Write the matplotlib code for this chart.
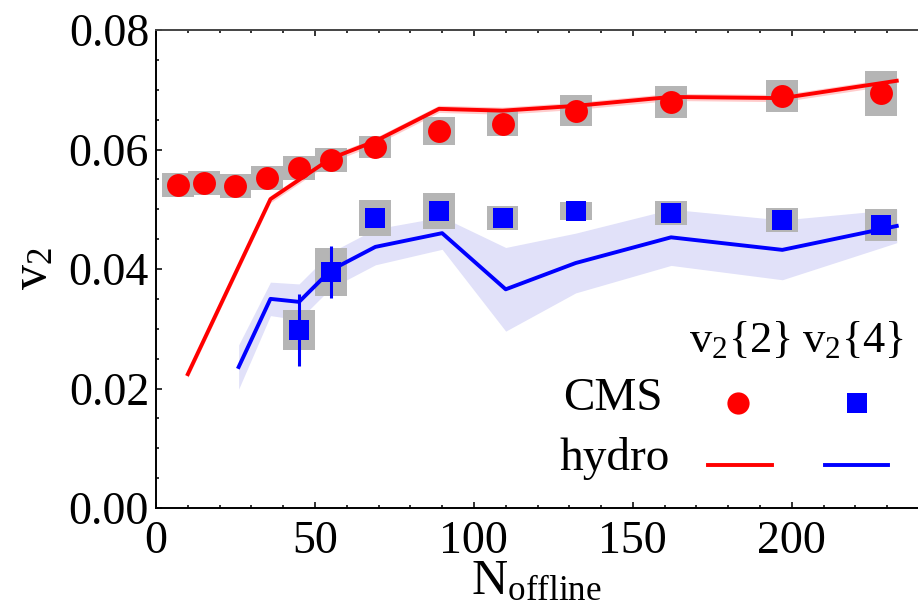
import matplotlib
matplotlib.use("Agg")
import matplotlib.pyplot as plt
from matplotlib.ticker import MultipleLocator, FormatStrFormatter

plt.rcParams['font.family'] = ['Liberation Serif', 'DejaVu Serif']
plt.rcParams['mathtext.fontset'] = 'custom'
plt.rcParams['mathtext.rm'] = 'Liberation Serif'
plt.rcParams['mathtext.it'] = 'Liberation Serif:italic'

# CMS v2{2}
n_v22 = [7, 15, 25, 35, 45, 55, 69, 89, 109, 132, 162, 197, 228]
v22 = [0.0541, 0.0544, 0.0539, 0.0552, 0.0569, 0.0582, 0.0604, 0.0631,
       0.0643, 0.0665, 0.0680, 0.0690, 0.0694]
v22_sys = [0.0020, 0.0020, 0.0020, 0.0020, 0.0020, 0.0020, 0.0018, 0.0024,
           0.0021, 0.0026, 0.0027, 0.0027, 0.0038]

# CMS v2{4}
n_v24 = [45, 55, 69, 89, 109, 132, 162, 197, 228]
v24 = [0.0298, 0.0395, 0.0485, 0.0497, 0.0485, 0.0497, 0.0493, 0.0482, 0.0474]
v24_stat = [0.0060, 0.0044, 0.0009, 0.0009, 0.0009, 0.0006, 0.0006, 0.0006, 0.0006]
v24_sys = [0.0033, 0.0040, 0.0030, 0.0030, 0.0020, 0.0015, 0.0020, 0.0020, 0.0027]

# hydro v2{2}
n_h22 = [10, 36, 55, 69, 89, 109, 132, 162, 197, 233]
h22 = [0.0224, 0.0517, 0.0585, 0.0614, 0.0668, 0.0665, 0.0673, 0.0688, 0.0686, 0.0715]
h22_err = [0.0006, 0.0006, 0.0006, 0.0006, 0.0006, 0.0006, 0.0006, 0.0006, 0.0006, 0.0006]

# hydro v2{4}
n_h24 = [26, 36, 45, 55, 69, 90, 110, 132, 162, 197, 233]
h24 = [0.0236, 0.0350, 0.0345, 0.0398, 0.0437, 0.0460, 0.0366, 0.0410, 0.0453, 0.0432, 0.0472]
h24_err = [0.0037, 0.0028, 0.0030, 0.0030, 0.0030, 0.0027, 0.0070, 0.0050, 0.0047, 0.0050, 0.0028]

RED = '#ff0000'
BLUE = '#0000ff'
GRAY = '#b5b5b5'

fig = plt.figure(figsize=(9.18, 6.13), dpi=100)
ax = fig.add_axes([156 / 918, 105 / 613, 763 / 918, 478 / 613])

# theory bands
ax.fill_between(n_h24, [a - b for a, b in zip(h24, h24_err)],
                [a + b for a, b in zip(h24, h24_err)], color='#e1e1f9', lw=0, zorder=1)
ax.fill_between(n_h22, [a - b for a, b in zip(h22, h22_err)],
                [a + b for a, b in zip(h22, h22_err)], color='#ffcccc', lw=0, zorder=1)

# systematic boxes
ax.bar(n_v22, [2 * s for s in v22_sys], bottom=[a - s for a, s in zip(v22, v22_sys)],
       width=10, color=GRAY, zorder=2)
ax.bar(n_v24, [2 * s for s in v24_sys], bottom=[a - s for a, s in zip(v24, v24_sys)],
       width=10, color=GRAY, zorder=2)

# hydro lines
ax.plot(n_h22, h22, color=RED, lw=2.8, zorder=3)
ax.plot(n_h24, h24, color=BLUE, lw=2.8, zorder=3)

# data points
ax.plot(n_v22, v22, 'o', color=RED, ms=16.5, mew=0, zorder=4)
ax.errorbar(n_v24, v24, yerr=v24_stat, fmt='s', color=BLUE, ms=14.5, mew=0,
            elinewidth=2.2, capsize=5, capthick=2.2, zorder=4)

ax.set_xlim(0, 240)
ax.set_ylim(0, 0.08)
ax.xaxis.set_major_locator(MultipleLocator(50))
ax.xaxis.set_minor_locator(MultipleLocator(10))
ax.yaxis.set_major_locator(MultipleLocator(0.02))
ax.yaxis.set_minor_locator(MultipleLocator(0.005))
ax.yaxis.set_major_formatter(FormatStrFormatter('%.2f'))

ax.tick_params(which='both', direction='in', top=True, right=False,
               labelsize=33, width=1.2, color='#111111')
ax.tick_params(which='major', length=4.5)
ax.tick_params(which='minor', length=2.2)
ax.tick_params(axis='x', pad=9)
ax.tick_params(axis='y', pad=5)
ax.spines['right'].set_visible(False)
for side in ['left', 'bottom', 'top']:
    ax.spines[side].set_linewidth(1.4)
ax.spines['top'].set_color('#444444')

ax.set_xlabel(r'$\mathrm{N}_{\mathrm{offline}}$', fontsize=36)
ax.xaxis.set_label_coords(0.499, -0.105)
ax.set_ylabel(r'$\mathrm{v}_2$', fontsize=36)
ax.yaxis.set_label_coords(-0.13, 0.5)

# legend block
ax.text(0.7654, 0.3264, r'$\mathrm{v}_2${2}', transform=ax.transAxes, fontsize=32,
        ha='center', va='baseline')
ax.text(0.9135, 0.3264, r'$\mathrm{v}_2${4}', transform=ax.transAxes, fontsize=32,
        ha='center', va='baseline')
ax.text(0.599, 0.205, 'CMS', transform=ax.transAxes, fontsize=34,
        ha='center', va='baseline')
ax.text(0.6016, 0.0795, 'hydro', transform=ax.transAxes, fontsize=34,
        ha='center', va='baseline')
ax.plot([0.7628], [0.2197], 'o', color=RED, ms=16, mew=0, transform=ax.transAxes, clip_on=False)
ax.plot([0.9187], [0.2197], 's', color=BLUE, ms=15, mew=0, transform=ax.transAxes, clip_on=False)
ax.plot([0.7235, 0.8073], [0.09, 0.09], color=RED, lw=2.8, transform=ax.transAxes)
ax.plot([0.8768, 0.9594], [0.09, 0.09], color=BLUE, lw=2.8, transform=ax.transAxes)

fig.savefig('out.png', dpi=100)
